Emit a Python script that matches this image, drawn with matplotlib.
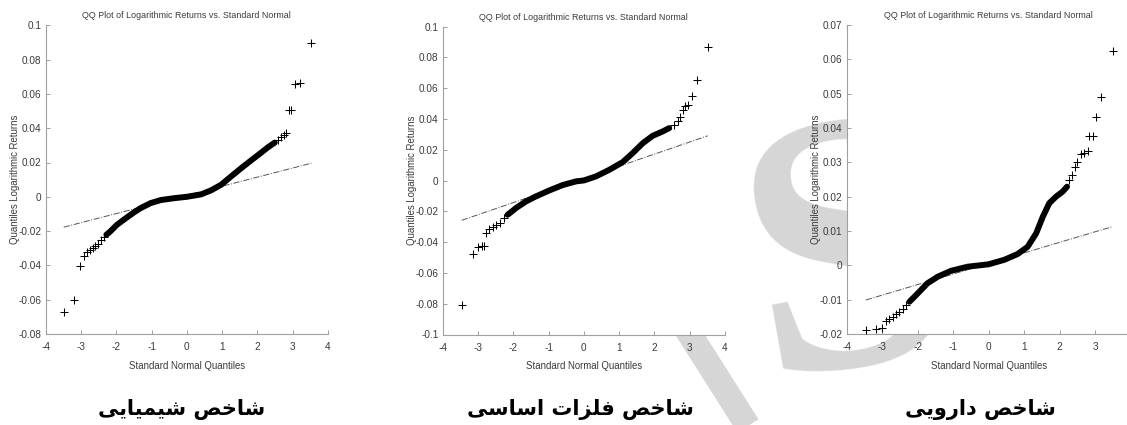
import matplotlib
matplotlib.use("Agg")
import matplotlib.pyplot as plt
from matplotlib.lines import Line2D

# ---------- data ----------

TITLE = "QQ Plot of Logarithmic Returns vs. Standard Normal"
XLABEL = "Standard Normal Quantiles"
YLABEL = "Quantiles Logarithmic Returns"

# chemicals index
chem_tail_x = [-3.49, -3.19, -3.04, -2.92, -2.83, -2.75, -2.67, -2.59, -2.52, -2.43, -2.35,
               2.58, 2.68, 2.75, 2.82, 2.89, 2.96, 3.06, 3.22, 3.53]
chem_tail_y = [-0.0674, -0.0600, -0.0406, -0.0344, -0.0322, -0.0309, -0.0299, -0.0289, -0.0276,
               -0.0254, -0.0237, 0.0332, 0.0348, 0.0361, 0.0371, 0.0507, 0.0507, 0.0658, 0.0662, 0.0899]
chem_body_x = [-2.28, -2.17, -1.98, -1.79, -1.50, -1.31, -1.03, -0.74, -0.36, 0.0, 0.40, 0.68,
               0.97, 1.25, 1.54, 1.82, 2.11, 2.30, 2.49]
chem_body_y = [-0.0221, -0.0202, -0.0163, -0.0134, -0.0091, -0.0066, -0.0037, -0.0019, -0.0008,
               0.0, 0.0014, 0.0037, 0.0070, 0.0118, 0.0167, 0.0212, 0.0258, 0.0289, 0.0316]
chem_ref_x = [-3.49, 3.53]
chem_ref_y = [-0.0177, 0.0196]

# basic metals index
metal_tail_x = [-3.46, -3.15, -3.01, -2.88, -2.84, -2.77, -2.68, -2.58, -2.49, -2.38, -2.25,
                2.56, 2.66, 2.72, 2.80, 2.87, 2.94, 3.07, 3.21, 3.51]
metal_tail_y = [-0.0810, -0.0475, -0.0431, -0.0427, -0.0423, -0.0341, -0.0315, -0.0302, -0.0291,
                -0.0276, -0.0243, 0.0362, 0.0390, 0.0412, 0.0459, 0.0486, 0.0494, 0.0552, 0.0652, 0.0866]
metal_body_x = [-2.16, -1.92, -1.64, -1.36, -0.98, -0.60, -0.22, 0.0, 0.34, 0.72, 1.10, 1.38,
                1.67, 1.95, 2.23, 2.42]
metal_body_y = [-0.0222, -0.0178, -0.0135, -0.0103, -0.0064, -0.0029, -0.0005, 0.0001, 0.0027,
                0.0070, 0.0120, 0.0178, 0.0243, 0.0291, 0.0319, 0.0341]
metal_ref_x = [-3.46, 3.51]
metal_ref_y = [-0.0258, 0.0291]

# pharmaceutical index
pharm_tail_x = [-3.46, -3.17, -3.01, -2.89, -2.80, -2.70, -2.61, -2.52, -2.42, -2.33,
                2.28, 2.35, 2.43, 2.50, 2.61, 2.70, 2.80, 2.84, 2.94, 3.03, 3.17, 3.50]
pharm_tail_y = [-0.0188, -0.0186, -0.0182, -0.0161, -0.0157, -0.0150, -0.0143, -0.0135, -0.0128,
                -0.0116, 0.0249, 0.0263, 0.0287, 0.0302, 0.0324, 0.0328, 0.0334, 0.0377, 0.0377,
                0.0433, 0.0491, 0.0625]
pharm_body_x = [-2.23, -2.00, -1.72, -1.43, -1.06, -0.59, 0.0, 0.44, 0.82, 1.10, 1.34, 1.53,
                1.71, 1.90, 2.09, 2.21]
pharm_body_y = [-0.0106, -0.0082, -0.0052, -0.0033, -0.0016, -0.0004, 0.0003, 0.0016, 0.0033,
                0.0054, 0.0093, 0.0142, 0.0181, 0.0200, 0.0215, 0.0229]
pharm_ref_x = [-3.46, 3.50]
pharm_ref_y = [-0.0101, 0.0113]

chem_yticks = [-0.08, -0.06, -0.04, -0.02, 0, 0.02, 0.04, 0.06, 0.08, 0.1]
metal_yticks = [-0.1, -0.08, -0.06, -0.04, -0.02, 0, 0.02, 0.04, 0.06, 0.08, 0.1]
pharm_yticks = [-0.02, -0.01, 0, 0.01, 0.02, 0.03, 0.04, 0.05, 0.06, 0.07]

captions = ["شاخص شیمیایی", "شاخص فلزات اساسی", "شاخص دارویی"]

# ---------- arabic shaping (matplotlib does no joining / bidi) ----------

FORMS = {
    "ا": ("\uFE8D", "\uFE8E", None, None),
    "ت": ("\uFE95", "\uFE96", "\uFE97", "\uFE98"),
    "خ": ("\uFEA5", "\uFEA6", "\uFEA7", "\uFEA8"),
    "د": ("\uFEA9", "\uFEAA", None, None),
    "ر": ("\uFEAD", "\uFEAE", None, None),
    "ز": ("\uFEAF", "\uFEB0", None, None),
    "س": ("\uFEB1", "\uFEB2", "\uFEB3", "\uFEB4"),
    "ش": ("\uFEB5", "\uFEB6", "\uFEB7", "\uFEB8"),
    "ص": ("\uFEB9", "\uFEBA", "\uFEBB", "\uFEBC"),
    "ف": ("\uFED1", "\uFED2", "\uFED3", "\uFED4"),
    "ل": ("\uFEDD", "\uFEDE", "\uFEDF", "\uFEE0"),
    "م": ("\uFEE1", "\uFEE2", "\uFEE3", "\uFEE4"),
    "و": ("\uFEED", "\uFEEE", None, None),
    "ی": ("\uFEEF", "\uFEF0", "\uFEF3", "\uFEF4"),
}


def shape(text):
    out = []
    for i, ch in enumerate(text):
        f = FORMS.get(ch)
        if f is None:
            out.append(ch)
            continue
        prev = text[i - 1] if i > 0 else ""
        nxt = text[i + 1] if i + 1 < len(text) else ""
        join_prev = prev in FORMS and FORMS[prev][2] is not None
        join_next = f[2] is not None and nxt in FORMS
        if join_prev and join_next:
            out.append(f[3])
        elif join_prev:
            out.append(f[1])
        elif join_next:
            out.append(f[2])
        else:
            out.append(f[0])
    return "".join(reversed(out))


# ---------- figure ----------

plt.rcParams["font.family"] = ["Liberation Sans", "DejaVu Sans"]

W, H = 1127, 425
fig = plt.figure(figsize=(W / 100, H / 100), dpi=100)


def px_axes(left, top, right, bottom):
    return fig.add_axes([left / W, 1 - bottom / H, (right - left) / W, (bottom - top) / H])


# light grey watermark, kept behind the (white) axes
wm_c = "#d6d6d6"
fig.text(850 / W, 0.36, "S", fontsize=265, family="Liberation Serif", fontweight="bold",
         rotation=10, ha="center", va="center", color=wm_c, zorder=-5)
fig.add_artist(Line2D([668 / W, 760 / W], [1 - 300 / H, 1 - 445 / H], transform=fig.transFigure,
                      color=wm_c, linewidth=18, solid_capstyle="butt", zorder=-5))

panels = [
    (px_axes(45.7, 25.3, 328.0, 334.0), chem_tail_x, chem_tail_y, chem_body_x, chem_body_y,
     chem_ref_x, chem_ref_y, (-0.08, 0.1), chem_yticks, range(-4, 5)),
    (px_axes(442.7, 26.7, 725.0, 334.5), metal_tail_x, metal_tail_y, metal_body_x, metal_body_y,
     metal_ref_x, metal_ref_y, (-0.1, 0.1), metal_yticks, range(-4, 5)),
    (px_axes(846.7, 25.0, 1130.5, 334.0), pharm_tail_x, pharm_tail_y, pharm_body_x, pharm_body_y,
     pharm_ref_x, pharm_ref_y, (-0.02, 0.07), pharm_yticks, range(-4, 4)),
]

spine_c = "#a0a0a0"
text_c = "#3a3a3a"

for ax, tx, ty, bx, by, rx, ry, ylim, yticks, xticks in panels:
    ax.plot(rx, ry, linestyle="-.", color="#555555", linewidth=0.7, zorder=1)
    ax.plot(bx, by, color="black", linewidth=4.3, solid_capstyle="round", zorder=2)
    ax.plot(tx, ty, linestyle="none", marker="+", markersize=6, markeredgewidth=0.75,
            color="black", zorder=3)

    ax.set_xlim(-4, 4)
    ax.set_ylim(*ylim)
    ax.set_xticks(list(xticks))
    ax.set_yticks(yticks)
    ax.set_xticklabels([str(v) for v in xticks])
    ax.set_yticklabels([("%g" % v) for v in yticks])

    for s in ("top", "right"):
        ax.spines[s].set_visible(False)
    for s in ("left", "bottom"):
        ax.spines[s].set_color(spine_c)
        ax.spines[s].set_linewidth(0.8)
    ax.tick_params(direction="in", length=3, width=0.7, color=spine_c,
                   labelsize=7.2, labelcolor=text_c)
    ax.tick_params(axis="x", pad=6)
    ax.tick_params(axis="y", pad=3)

    ax.set_title(TITLE, fontsize=6.4, color=text_c, pad=5)
    ax.set_xlabel(XLABEL, fontsize=6.9, color=text_c, labelpad=6)
    ax.set_ylabel(YLABEL, fontsize=6.9, color=text_c, va="center")

    # y label sits about 31 px left of the spine
    pos = ax.get_position()
    ax.yaxis.set_label_coords(-31 / (pos.width * W), 0.5)

caption_x = [182, 580, 980]
for cx, cap in zip(caption_x, captions):
    fig.text(cx / W, 1 - 410 / H, shape(cap), ha="center", va="center",
             fontsize=15, fontweight="bold", family="DejaVu Sans", color="black")

fig.savefig("out.png", dpi=100)
